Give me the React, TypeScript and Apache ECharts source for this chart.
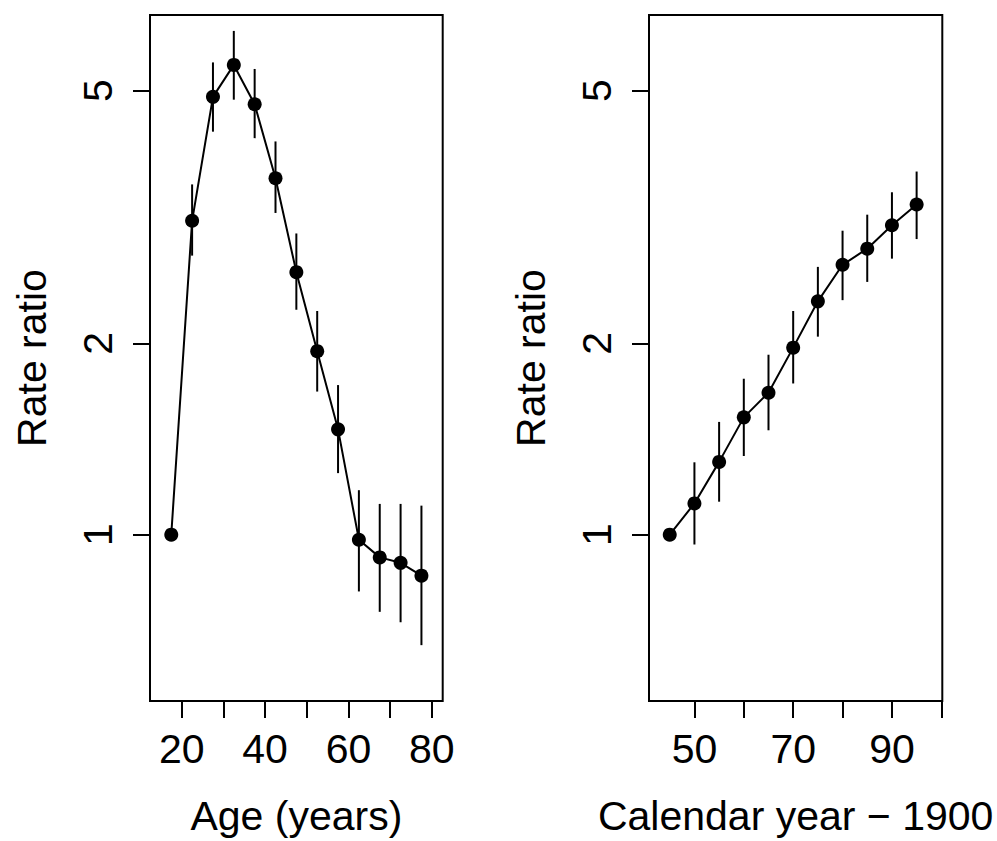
import React, { useEffect, useRef } from "react";
import * as echarts from "echarts";

// Left panel: age
const ageMid = [17.5, 22.5, 27.5, 32.5, 37.5, 42.5, 47.5, 52.5, 57.5, 62.5, 67.5, 72.5, 77.5];
const ageRR = [1, 3.12, 4.89, 5.49, 4.76, 3.64, 2.59, 1.945, 1.465, 0.982, 0.921, 0.903, 0.862];
const ageLo = [null, 2.75, 4.31, 4.84, 4.21, 3.21, 2.26, 1.68, 1.25, 0.814, 0.756, 0.728, 0.67];
const ageHi = [null, 3.56, 5.54, 6.21, 5.41, 4.16, 2.98, 2.25, 1.72, 1.175, 1.118, 1.118, 1.111];
const ageTicks = [20, 30, 40, 50, 60, 70, 80];
const ageLabels = [20, 40, 60, 80];

// Right panel: calendar year
const yearMid = [45, 50, 55, 60, 65, 70, 75, 80, 85, 90, 95];
const yearRR = [1, 1.12, 1.302, 1.53, 1.673, 1.97, 2.33, 2.66, 2.82, 3.07, 3.31];
const yearLo = [null, 0.965, 1.127, 1.33, 1.46, 1.73, 2.05, 2.34, 2.5, 2.72, 2.92];
const yearHi = [null, 1.3, 1.505, 1.76, 1.92, 2.25, 2.64, 3.01, 3.19, 3.46, 3.73];
const yearTicks = [50, 60, 70, 80, 90, 100];
const yearLabels = [50, 70, 90];

// Y axis (log scale, drawn on natural-log values)
const yTicks = [1, 2, 5];
const yLim = [0.6, 6];

const FONT = "'Liberation Sans', Arial, Helvetica, sans-serif";

function ext(lo: number, hi: number) {
  const d = (hi - lo) * 0.04;
  return [lo - d, hi + d];
}

export default function App() {
  const ref = useRef<HTMLDivElement>(null);
  useEffect(() => {
    if (!ref.current) return;
    const chart = echarts.init(ref.current, null, { renderer: "svg" });
    const [yMin, yMax] = ext(Math.log(yLim[0]), Math.log(yLim[1]));
    const [axMin, axMax] = ext(15, 80);
    const [cxMin, cxMax] = ext(43, 98);

    const textStyle = { fontSize: 41, fontFamily: FONT, color: "#000", lineHeight: 41 };

    const mkX = (gi: number, min: number, max: number, ticks: number[], labels: number[], name: string) => ({
      type: "value",
      gridIndex: gi,
      min,
      max,
      axisLine: { show: false, onZero: false },
      axisTick: { show: true, length: 17, inside: false, customValues: ticks, lineStyle: { color: "#000", width: 2 } },
      axisLabel: { show: true, customValues: labels, margin: 27, ...textStyle },
      splitLine: { show: false },
      name,
      nameLocation: "middle",
      nameGap: 94,
      nameTextStyle: textStyle,
    });
    const mkY = (gi: number) => ({
      type: "value",
      gridIndex: gi,
      min: yMin,
      max: yMax,
      axisLine: { show: false, onZero: false },
      axisTick: {
        show: true,
        length: 17,
        inside: false,
        customValues: yTicks.map((v) => Math.log(v)),
        lineStyle: { color: "#000", width: 2 },
      },
      axisLabel: {
        show: true,
        customValues: yTicks.map((v) => Math.log(v)),
        rotate: 90,
        margin: 32,
        formatter: (v: number) => String(Math.round(Math.exp(v))),
        ...textStyle,
      },
      splitLine: { show: false },
      name: "Rate ratio",
      nameLocation: "middle",
      nameGap: 98,
      nameRotate: 90,
      nameTextStyle: textStyle,
    });

    const lineSeries = (gi: number, xs: number[], ys: number[]) => ({
      type: "line",
      xAxisIndex: gi,
      yAxisIndex: gi,
      data: xs.map((x, i) => [x, Math.log(ys[i])]),
      symbol: "circle",
      symbolSize: 14,
      lineStyle: { color: "#000", width: 2 },
      itemStyle: { color: "#000" },
      z: 3,
    });
    const ciSeries = (gi: number, xs: number[], lo: (number | null)[], hi: (number | null)[]) => ({
      type: "custom",
      xAxisIndex: gi,
      yAxisIndex: gi,
      data: xs
        .map((x, i) => [x, lo[i], hi[i]])
        .filter((d) => d[1] != null && d[2] != null)
        .map((d) => [d[0] as number, Math.log(d[1] as number), Math.log(d[2] as number)]),
      encode: { x: 0, y: [1, 2] },
      renderItem: (_p: any, api: any) => {
        const a = api.coord([api.value(0), api.value(1)]);
        const b = api.coord([api.value(0), api.value(2)]);
        return {
          type: "line",
          shape: { x1: a[0], y1: a[1], x2: b[0], y2: b[1] },
          style: { stroke: "#000", lineWidth: 2 },
        };
      },
      z: 4,
    });

    chart.setOption({
      animation: false,
      backgroundColor: "#fff",
      grid: [
        { left: 150, top: 15, width: 292.7, height: 691.7, show: true, borderColor: "#000", borderWidth: 2, backgroundColor: "transparent" },
        { left: 649, top: 15, width: 293.3, height: 691.7, show: true, borderColor: "#000", borderWidth: 2, backgroundColor: "transparent" },
      ],
      xAxis: [
        mkX(0, axMin, axMax, ageTicks, ageLabels, "Age (years)"),
        mkX(1, cxMin, cxMax, yearTicks, yearLabels, "Calendar year \u2212 1900"),
      ],
      yAxis: [mkY(0), mkY(1)],
      series: [
        lineSeries(0, ageMid, ageRR),
        ciSeries(0, ageMid, ageLo, ageHi),
        lineSeries(1, yearMid, yearRR),
        ciSeries(1, yearMid, yearLo, yearHi),
      ],
    });
    return () => chart.dispose();
  }, []);
  return <div ref={ref} style={{ position: "fixed", left: 0, top: 0, width: 997, height: 841 }} />;
}
